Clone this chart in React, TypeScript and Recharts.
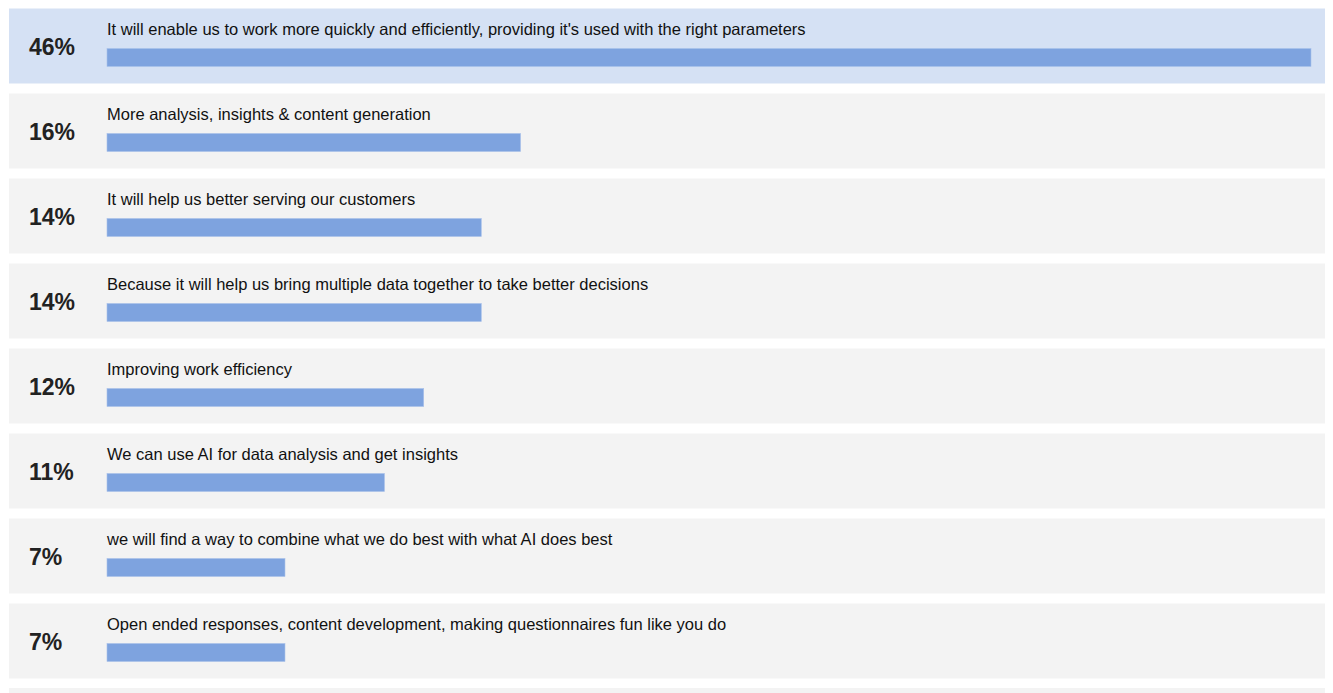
import { BarChart, Bar, XAxis, YAxis } from "recharts";

const answers = [
  "It will enable us to work more quickly and efficiently, providing it's used with the right parameters",
  "More analysis, insights & content generation",
  "It will help us better serving our customers",
  "Because it will help us bring multiple data together to take better decisions",
  "Improving work efficiency",
  "We can use AI for data analysis and get insights",
  "we will find a way to combine what we do best with what AI does best",
  "Open ended responses, content development, making questionnaires fun like you do",
];

const shares = [46, 15.8, 14.3, 14.3, 12.1, 10.6, 6.8, 6.8];

const highlighted = [0];

const chartData = answers.map((answer, i) => ({
  answer,
  share: shares[i],
}));

const BAND = 85;
const ROW_H = 75;
const FONT = "'Liberation Sans', Arial, Helvetica, sans-serif";

function RowShape(props: any) {
  const { x, y, width, height, index } = props;
  const bandTop = y + height / 2 - BAND / 2;
  const isTop = highlighted.includes(index);
  return (
    <g>
      <rect
        x={x - 98}
        y={bandTop}
        width={1321}
        height={ROW_H}
        fill={isTop ? "#d5e1f4" : "#f3f3f3"}
      />
      <text
        x={x - 78}
        y={bandTop + 46}
        fontFamily={FONT}
        fontSize={23}
        fontWeight={700}
        fill="#222"
      >
        {Math.round(shares[index])}%
      </text>
      <text
        x={x}
        y={bandTop + 26}
        fontFamily={FONT}
        fontSize={16.5}
        fill="#111"
      >
        {answers[index]}
      </text>
      <rect
        x={x}
        y={bandTop + 40}
        width={width}
        height={18}
        fill="#7ea3df"
        stroke="#a9c1ea"
        strokeWidth={0.6}
      />
    </g>
  );
}

export default function App() {
  return (
    <div style={{ width: 1325, background: "#fff" }}>
      <BarChart
        width={1325}
        height={680}
        data={chartData}
        layout="vertical"
        margin={{ top: 0, right: 22, bottom: 0, left: 99 }}
        barCategoryGap={0}
      >
        <XAxis type="number" domain={[0, 46]} hide />
        <YAxis type="category" dataKey="answer" hide />
        <Bar
          dataKey="share"
          barSize={18}
          shape={RowShape}
          isAnimationActive={false}
        />
      </BarChart>
      <div
        style={{ marginLeft: 1, width: 1321, height: 75, background: "#f3f3f3" }}
      />
    </div>
  );
}
